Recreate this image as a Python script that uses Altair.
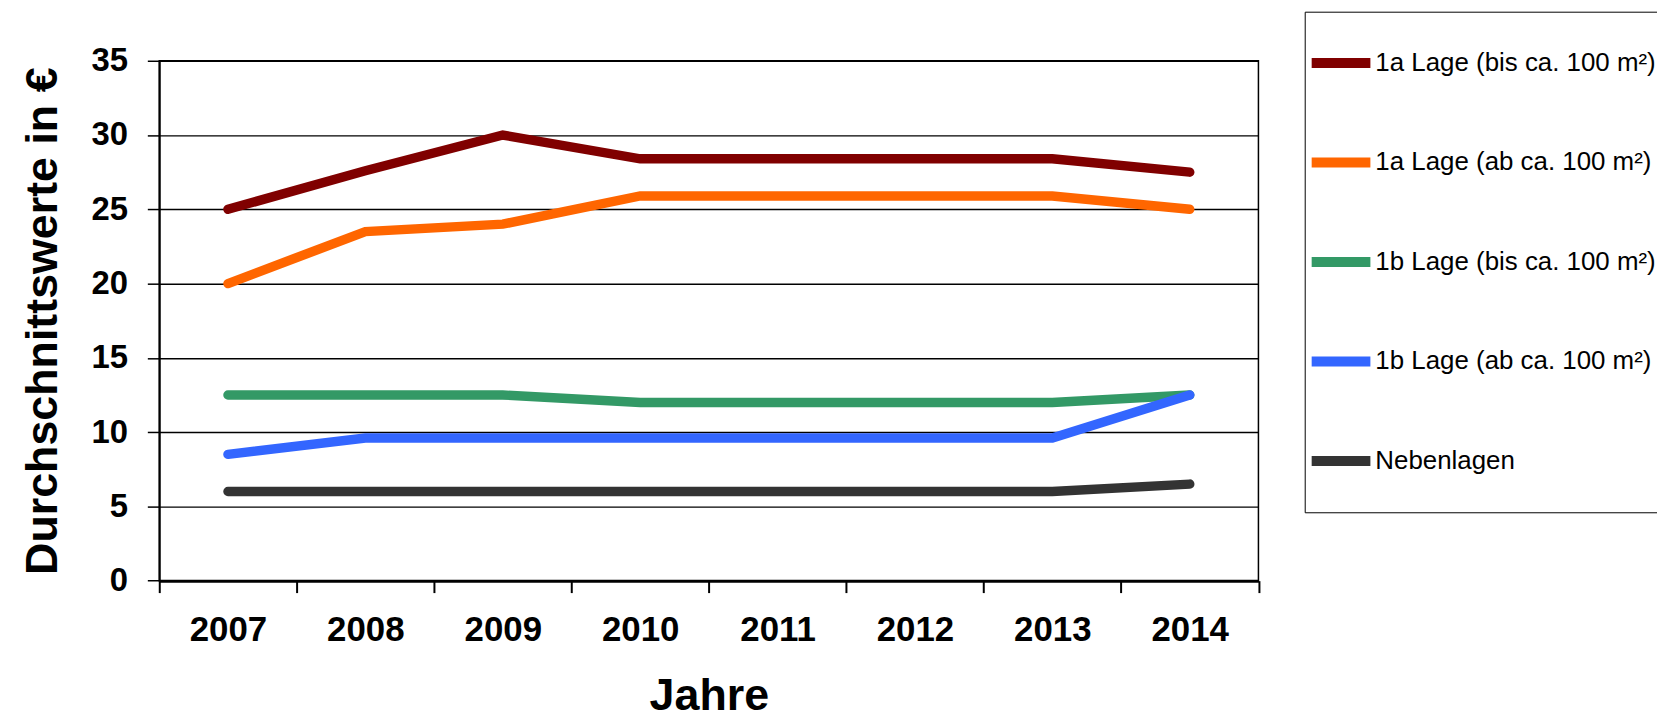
import altair as alt
import pandas as pd

years = ["2007", "2008", "2009", "2010", "2011", "2012", "2013", "2014"]
series = [
    "1a Lage (bis ca. 100 m²)",
    "1a Lage (ab ca. 100 m²)",
    "1b Lage (bis ca. 100 m²)",
    "1b Lage (ab ca. 100 m²)",
    "Nebenlagen",
]
colors = ["#800000", "#FF6600", "#339966", "#3366FF", "#333333"]

lage_1a_bis = [25, 27.6, 30, 28.4, 28.4, 28.4, 28.4, 27.5]
lage_1a_ab = [20, 23.5, 24, 25.9, 25.9, 25.9, 25.9, 25]
lage_1b_bis = [12.5, 12.5, 12.5, 12, 12, 12, 12, 12.5]
lage_1b_ab = [8.5, 9.6, 9.6, 9.6, 9.6, 9.6, 9.6, 12.5]
nebenlagen = [6, 6, 6, 6, 6, 6, 6, 6.5]

y_ticks = [0, 5, 10, 15, 20, 25, 30, 35]

values = [lage_1a_bis, lage_1a_ab, lage_1b_bis, lage_1b_ab, nebenlagen]
rows = []
for s, vals in zip(series, values):
    for yr, v in zip(years, vals):
        rows.append({"Jahr": yr, "Wert": v, "Serie": s})
df = pd.DataFrame(rows)

FONT = "Liberation Sans"

chart = (
    alt.Chart(df)
    .mark_line(strokeWidth=9.5, strokeCap="round")
    .encode(
        x=alt.X(
            "Jahr:O",
            bandPosition=0.5,
            sort=years,
            scale=alt.Scale(type="band", paddingInner=0, paddingOuter=0),
            axis=alt.Axis(
                title="Jahre",
                labelAngle=0,
                tickBand="extent",
                grid=False,
                labelFont=FONT,
                labelFontSize=35,
                labelFontWeight="bold",
                labelColor="black",
                labelPadding=20,
                tickSize=12,
                tickColor="black",
                tickWidth=2,
                domainColor="black",
                domainWidth=3,
                titleFont=FONT,
                titleFontSize=45,
                titleFontWeight="bold",
                titleColor="black",
                titlePadding=26,
            ),
        ),
        y=alt.Y(
            "Wert:Q",
            scale=alt.Scale(domain=[0, 35], nice=False, zero=True),
            axis=alt.Axis(
                values=y_ticks,
                title="Durchschnittswerte in €",
                grid=True,
                gridColor="black",
                gridWidth=1.4,
                gridOpacity=1,
                labelFont=FONT,
                labelFontSize=33,
                labelFontWeight="bold",
                labelColor="black",
                labelPadding=20,
                tickSize=12,
                tickColor="black",
                tickWidth=1.5,
                domainColor="black",
                domainWidth=2,
                titleFont=FONT,
                titleFontSize=45,
                titleFontWeight="bold",
                titleColor="black",
                titlePadding=26,
            ),
        ),
        color=alt.Color(
            "Serie:N",
            sort=series,
            scale=alt.Scale(domain=series, range=colors),
            legend=alt.Legend(
                title=None,
                orient="none",
                legendX=1151,
                legendY=-49.3,
                symbolType="stroke",
                symbolSize=3481,
                symbolStrokeWidth=10,
                labelFont=FONT,
                labelFontSize=26,
                labelColor="black",
                labelOffset=0,
                labelLimit=600,
                labelExpr="datum.label + '      '",
                clipHeight=99,
                rowPadding=1,
                padding=2,
                strokeColor="black",
            ),
        ),
    )
    .properties(
        width=1104.5,
        height=522.4,
        padding={"left": 152, "top": 51.3, "right": 400.5, "bottom": 139},
        autosize="none",
        background="white",
    )
    .configure_view(stroke="black", strokeWidth=1.5)
)

chart.save("out.html", embed_options={"renderer": "svg", "actions": False})
